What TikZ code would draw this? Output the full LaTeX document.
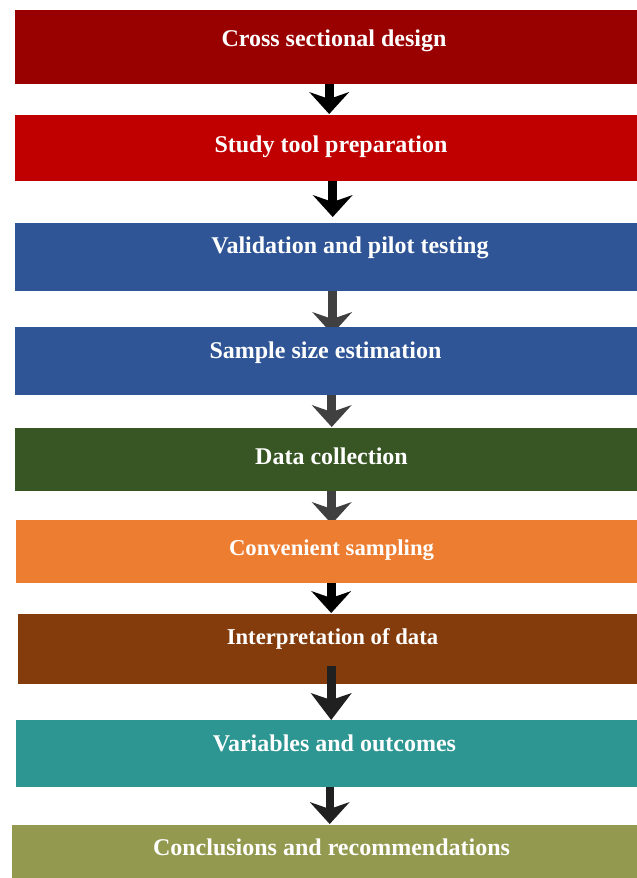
\documentclass[tikz,border=0pt]{standalone}
\usepackage{fontspec}
\setmainfont{Liberation Serif}
\usetikzlibrary{arrows.meta,calc}

% step fill colours
\definecolor{stepA}{HTML}{990000}
\definecolor{stepB}{HTML}{C00000}
\definecolor{stepC}{HTML}{2F5597}
\definecolor{stepD}{HTML}{375623}
\definecolor{stepE}{HTML}{ED7D31}
\definecolor{stepF}{HTML}{843C0C}
\definecolor{stepG}{HTML}{2E9692}
\definecolor{stepH}{HTML}{939A50}
% arrow colours
\definecolor{arrowDark}{HTML}{404040}
\definecolor{arrowInk}{HTML}{202020}

\pgfdeclarelayer{behind}
\pgfsetlayers{behind,main}

\begin{document}
\begin{tikzpicture}[x=1pt,y=-1pt,
  stepbox/.style={rectangle, draw=none, inner sep=0pt, anchor=north west},
  steptext/.style={anchor=base, inner sep=0pt, text=white,
                   font=\bfseries\fontsize{24}{28}\selectfont},
  smalltext/.style={steptext, font=\bfseries\fontsize{22.7}{27}\selectfont},
  flow/.style={line width=9pt,
               -{Stealth[length=22pt,width=40pt,inset=7pt,line width=0pt]}}]

\useasboundingbox (0,0) rectangle (637,878);

% process steps
\node[stepbox, fill=stepA, minimum width=622pt, minimum height=74pt] (b1) at (15,10)  {};
\node[stepbox, fill=stepB, minimum width=622pt, minimum height=66pt] (b2) at (15,115) {};
\node[stepbox, fill=stepC, minimum width=622pt, minimum height=68pt] (b3) at (15,223) {};
\node[stepbox, fill=stepC, minimum width=622pt, minimum height=68pt] (b4) at (15,327) {};
\node[stepbox, fill=stepD, minimum width=622pt, minimum height=63pt] (b5) at (15,428) {};
\node[stepbox, fill=stepE, minimum width=621pt, minimum height=63pt] (b6) at (16,520) {};
\node[stepbox, fill=stepF, minimum width=619pt, minimum height=70pt] (b7) at (18,614) {};
\node[stepbox, fill=stepG, minimum width=621pt, minimum height=67pt] (b8) at (16,720) {};
\node[stepbox, fill=stepH, minimum width=625pt, minimum height=53pt] (b9) at (12,825) {};

% step labels
\node[steptext]  (t1) at (334,46)    {Cross sectional design};
\node[steptext]  (t2) at (331,152)   {Study tool preparation};
\node[steptext]  (t3) at (350,253)   {Validation and pilot testing};
\node[steptext]  (t4) at (325.5,358) {Sample size estimation};
\node[steptext]  (t5) at (331.5,464) {Data collection};
\node[smalltext] (t6) at (331.5,555) {Convenient sampling};
\node[smalltext] (t7) at (332.5,644) {Interpretation of data};
\node[steptext]  (t8) at (334.5,751) {Variables and outcomes};
\node[steptext]  (t9) at (331.5,855) {Conclusions and recommendations};

% connectors, tucked under the step boxes
\begin{pgfonlayer}{behind}
\draw[flow, draw=black] ([xshift=3pt]b1.south) -- ([xshift=3pt,yshift=1pt]b2.north);
\draw[flow, draw=black] ([xshift=6.5pt]b2.south) -- ([xshift=6.5pt,yshift=6pt]b3.north);
\draw[flow, draw=arrowDark] ([xshift=6pt]b3.south) -- ([xshift=6pt,yshift=-7pt]b4.north);
\draw[flow, draw=arrowDark] ([xshift=5.5pt]b4.south) -- ([xshift=5.5pt,yshift=1pt]b5.north);
\draw[flow, draw=arrowDark] ([xshift=5.5pt]b5.south) -- ([xshift=5pt,yshift=-4pt]b6.north);
\draw[flow, draw=black] ([xshift=4.5pt]b6.south) -- ([xshift=3.5pt,yshift=1pt]b7.north);
\draw[flow, draw=arrowInk, line width=8pt] ([xshift=3pt]b8.south) -- ([xshift=5pt,yshift=1pt]b9.north);
\end{pgfonlayer}
% this one starts inside its source box
\draw[flow, draw=arrowInk,
      -{Stealth[length=27pt,width=41pt,inset=7pt,line width=0pt]}]
  ([xshift=3.5pt,yshift=18pt]b7.south) -- ([xshift=4.5pt]b8.north);

\end{tikzpicture}
\end{document}
